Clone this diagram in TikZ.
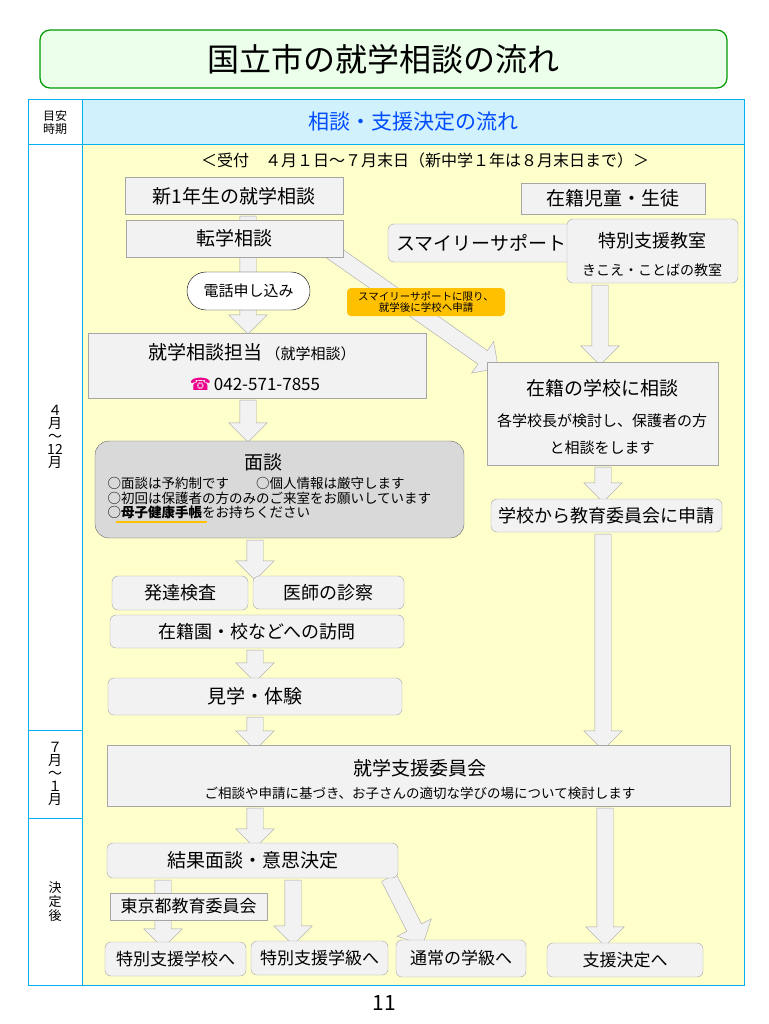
\documentclass[tikz,border=0pt]{standalone}
\usepackage{fontspec}
\setmainfont{Noto Sans CJK JP}
\newfontfamily\symfont{DejaVu Sans}
\usetikzlibrary{calc,shapes.arrows}

\definecolor{panel}{HTML}{FFFFCC}
\definecolor{boxgray}{HTML}{F2F2F2}
\definecolor{frame}{HTML}{00B0F0}
\definecolor{tagorange}{HTML}{FFC000}

\tikzset{
  box/.style={rectangle, draw=gray!70, fill=boxgray, inner sep=2pt, align=center},
  rbox/.style={box, rounded corners=6pt},
  fat/.style={single arrow, draw=gray!70, fill=boxgray, inner sep=0pt, inner ysep=8pt,
    single arrow head extend=11pt, single arrow tip angle=90},
}
\newcommand\fsz[1]{\fontsize{#1}{#1}\selectfont}
\newcommand\barrow[2]{\path let \p1=($(#2)-(#1)$), \n1={atan2(\y1,\x1)}, \n2={veclen(\x1,\y1)} in
  node[fat, minimum height=\n2, rotate=\n1] at ($(#1)!0.5!(#2)$) {};}

\begin{document}
\begin{tikzpicture}[x=1pt, y=-1pt]
\useasboundingbox (0,0) rectangle (768,1024);

% Title
\node[draw=green!60!black, fill=green!8, rounded corners=10pt, line width=1.2pt,
  minimum width=687pt, minimum height=58pt] (title) at (383.5,59) {\fsz{32}国立市の就学相談の流れ};

% Table
\fill[panel] (82,145) rectangle (744,985);
\fill[frame!18] (82,100) rectangle (744,145);
\draw[frame, line width=1pt] (28,100) rectangle (744,985);
\draw[frame, line width=1pt] (82,100) -- (82,985) (28,145) -- (744,145)
  (28,730) -- (82,730) (28,818) -- (82,818);
\node[align=center, font=\fsz{12}] (hdl) at (55,122) {目安\\[1pt]時期};
\node[text=blue!70!cyan] (hdr) at (413,122) {\fsz{21}相談・支援決定の流れ};
\node[align=center, font=\fsz{14}] (p1) at (55,437) {４\\[-1pt]月\\[-1pt]～\\[-1pt]12\\[-1pt]月};
\node[align=center, font=\fsz{14}] (p2) at (55,774) {７\\[-1pt]月\\[-1pt]～\\[-1pt]１\\[-1pt]月};
\node[align=center, font=\fsz{13}] (p3) at (55,902) {決\\[1pt]定\\[1pt]後};
\node (recv) at (425,160) {\fsz{16}＜受付　４月１日～７月末日（新中学１年は８月末日まで）＞};

% Arrow end points
\coordinate (a1) at (248,212);  \coordinate (b1) at (248,330);
\coordinate (a2) at (248,396);  \coordinate (b2) at (248,438);
\coordinate (a3) at (255,536);  \coordinate (b3) at (255,576);
\coordinate (a4) at (255,646);  \coordinate (b4) at (255,678);
\coordinate (a5) at (255,713);  \coordinate (b5) at (255,746);
\coordinate (a6) at (255,804);  \coordinate (b6) at (255,844);
\coordinate (a7) at (163,876);  \coordinate (b7) at (163,944);
\coordinate (a8) at (293,876);  \coordinate (b8) at (293,941);
\coordinate (a9) at (387,874);  \coordinate (b9) at (421,941);
\coordinate (a10) at (600,281); \coordinate (b10) at (600,361);
\coordinate (a11) at (603,463); \coordinate (b11) at (603,498);
\coordinate (a12) at (603,530); \coordinate (b12) at (603,746);
\coordinate (a13) at (605,804); \coordinate (b13) at (605,942);
\coordinate (a14) at (318,242); \coordinate (b14) at (495,366);
\barrow{a1}{b1} \barrow{a2}{b2} \barrow{a3}{b3} \barrow{a4}{b4} \barrow{a5}{b5}
\barrow{a6}{b6} \barrow{a7}{b7} \barrow{a8}{b8} \barrow{a9}{b9} \barrow{a10}{b10}
\barrow{a11}{b11} \barrow{a12}{b12} \barrow{a13}{b13} \barrow{a14}{b14}

% Left flow
\node[box, minimum width=218pt, minimum height=37pt] (new1) at (234,196) {\fsz{19}新1年生の就学相談};
\node[box, minimum width=217pt, minimum height=37pt] (tengaku) at (234.5,238.5) {\fsz{19}転学相談};
\node[draw=black, fill=white, rounded corners=19pt, minimum width=123pt, minimum height=38pt] (tel) at (248.5,291) {\fsz{15}電話申し込み};
\node[box, minimum width=338pt, minimum height=65pt] (tanto) at (257,365.5) {};
\node (tantoa) at (252,352) {\fsz{19}就学相談担当\,\fsz{15}（就学相談）};
\node (tantob) at (255,384) {\fsz{17}{\symfont\color{magenta}☎}\,042-571-7855};
\node[draw=gray!80!black, fill=gray!30, rounded corners=14pt, minimum width=369pt, minimum height=97pt] (mendan) at (279.5,489.5) {};
\node (mendant) at (263,462) {\fsz{19}面談};
\node[anchor=west, align=left, font=\fsz{13.5}] (mendanl) at (104,498) {○面談は予約制です　　○個人情報は厳守します\\[1pt]○初回は保護者の方のみのご来室をお願いしています\\[1pt]○\textbf{母子健康手帳}をお持ちください};
\draw[tagorange, line width=2pt] (116,522) -- (207,522);
\node[rbox, minimum width=136pt, minimum height=34pt] (hattatsu) at (180,593) {\fsz{18}発達検査};
\node[rbox, minimum width=151pt, minimum height=33pt] (ishi) at (328.5,592.5) {\fsz{18}医師の診察};
\node[rbox, minimum width=294pt, minimum height=33pt] (homon) at (257,631.5) {\fsz{18}在籍園・校などへの訪問};
\node[rbox, minimum width=294pt, minimum height=37pt] (kengaku) at (255,696.5) {\fsz{19}見学・体験};
\node[box, minimum width=623pt, minimum height=61pt] (iinkai) at (418.5,775.5) {};
\node (iinkait) at (420,768) {\fsz{19}就学支援委員会};
\node (iinkais) at (420,793) {\fsz{13.5}ご相談や申請に基づき、お子さんの適切な学びの場について検討します};
\node[rbox, minimum width=291pt, minimum height=35pt] (kekka) at (252.5,860.5) {\fsz{19}結果面談・意思決定};
\node[box, minimum width=157pt, minimum height=27pt] (tokyo) at (188.5,906.5) {\fsz{17}東京都教育委員会};
\node[rbox, minimum width=141pt, minimum height=34pt] (gakko) at (175.5,959) {\fsz{17}特別支援学校へ};
\node[rbox, minimum width=137pt, minimum height=34pt] (gakkyu) at (319.5,958) {\fsz{17}特別支援学級へ};
\node[rbox, minimum width=130pt, minimum height=37pt] (tsujo) at (461,958.5) {\fsz{17}通常の学級へ};
\node[rbox, minimum width=156pt, minimum height=34pt] (kettei) at (625,960) {\fsz{17}支援決定へ};

% Right flow
\node[box, minimum width=184pt, minimum height=31pt] (zaiseki) at (613,198.5) {\fsz{19}在籍児童・生徒};
\node[rbox, minimum width=187pt, minimum height=38pt] (smiley) at (481.5,243) {\fsz{19}スマイリーサポート};
\node[rbox, minimum width=171pt, minimum height=64pt] (tokubetsu) at (652.5,251) {};
\node (tokubetsua) at (652,241) {\fsz{18}特別支援教室};
\node (tokubetsub) at (652,270) {\fsz{14}きこえ・ことばの教室};
\node[fill=tagorange, rounded corners=4pt, align=center, inner sep=2pt, minimum width=158pt, minimum height=28pt, font=\fsz{10.5}] (note) at (426,302) {スマイリーサポートに限り、\\[1pt]就学後に学校へ申請};
\node[box, minimum width=231pt, minimum height=103pt] (soudan) at (602.5,413.5) {};
\node (soudant) at (602,388) {\fsz{19}在籍の学校に相談};
\node (soudanb) at (602,421) {\fsz{15}各学校長が検討し、保護者の方};
\node (soudanc) at (602,448) {\fsz{15}と相談をします};
\node[rbox, minimum width=231pt, minimum height=33pt] (shinsei) at (606.5,515.5) {\fsz{18}学校から教育委員会に申請};

% Page number
\node (page) at (384,1003) {\fsz{21}11};
\end{tikzpicture}
\end{document}
